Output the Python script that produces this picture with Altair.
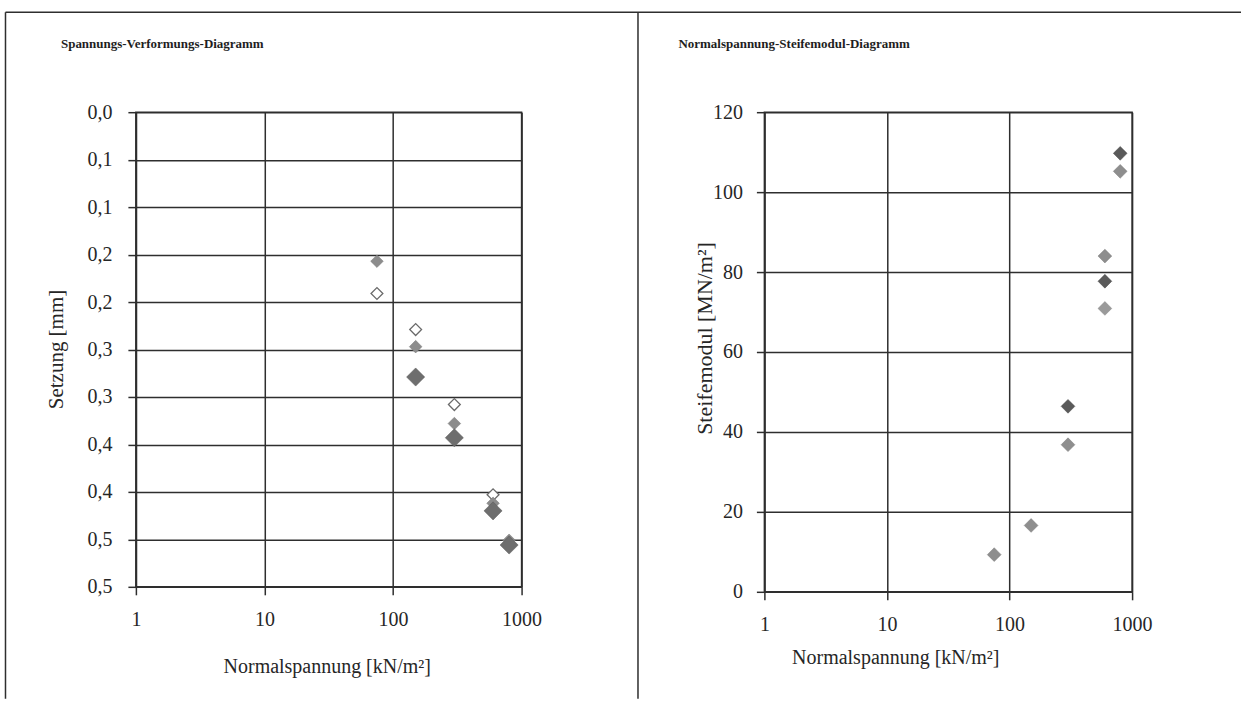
import altair as alt
import pandas as pd

# ---------------- data ----------------
STRESS = [75, 150, 300, 600, 800]            # Normalspannung [kN/m²]

# Setzung [mm] (left panel), three test series
SETZ_OPEN = [0.191, 0.229, 0.308, 0.403, None]
SETZ_GREY = [0.157, 0.247, 0.328, 0.412, 0.451]
SETZ_DARK = [None, 0.279, 0.343, 0.420, 0.456]

# Steifemodul [MN/m²] (right panel)
ES_GREY = [9.3, 16.6, 36.8, 84.0, 105.2]
ES_LIGHT = [None, None, None, 70.9, None]
ES_DARK = [None, None, 46.4, 77.7, 109.7]

X_TICKS = [1, 10, 100, 1000]
Y1_TICKS = [0, 0.05, 0.10, 0.15, 0.20, 0.25, 0.30, 0.35, 0.40, 0.45, 0.50]
Y1_LABELS = ["0,0", "0,1", "0,1", "0,2", "0,2", "0,3", "0,3", "0,4", "0,4", "0,5", "0,5"]
Y2_TICKS = [0, 20, 40, 60, 80, 100, 120]

TITLE_L = "Spannungs-Verformungs-Diagramm"
TITLE_R = "Normalspannung-Steifemodul-Diagramm"
XTITLE = "Normalspannung [kN/m²]"
Y1TITLE = "Setzung [mm]"
Y2TITLE = "Steifemodul [MN/m²]"

FONT = "Liberation Serif"
INK = "#262626"
GRID = "#2e2e2e"


def series(xs, ys):
    rows = [(x, y) for x, y in zip(xs, ys) if y is not None]
    return pd.DataFrame(rows, columns=["x", "y"])


one = pd.DataFrame({"a": [0]})

label_idx = "[" + ",".join(str(round(v * 100)) for v in Y1_TICKS) + "]"
label_arr = "[" + ",".join("'" + s + "'" for s in Y1_LABELS) + "]"
y1_label_expr = f"{label_arr}[indexof({label_idx}, round(datum.value*100))]"

# ---------------- left panel ----------------
W1, H1 = 386, 475
xs1 = alt.Scale(type="log", domain=[1, 1000], nice=False)
ys1 = alt.Scale(domain=[0, 0.5], reverse=True, nice=False, zero=False)

x_axis1 = alt.Axis(values=X_TICKS, format="d", title=XTITLE, tickSize=8, labelPadding=15,
                   titleX=W1 / 2 - 2, titleY=80, titleAlign="center", titleBaseline="middle",
                   titleFontSize=20)
y_axis1 = alt.Axis(values=Y1_TICKS, labelExpr=y1_label_expr, title=Y1TITLE, tickSize=8,
                   labelPadding=16, titleX=-79, titleY=237, titleAngle=270,
                   titleAlign="center", titleBaseline="middle", titleFontSize=21)


def pts(df, xs, ys, xa, ya, **mk):
    return alt.Chart(df).mark_point(shape="diamond", opacity=1, **mk).encode(
        x=alt.X("x:Q", scale=xs, axis=xa),
        y=alt.Y("y:Q", scale=ys, axis=ya),
    )


l_open = pts(series(STRESS, SETZ_OPEN), xs1, ys1, x_axis1, y_axis1,
             filled=True, fill="white", stroke="#6a6a6a", strokeWidth=1.3, size=140)
l_grey = pts(series(STRESS, SETZ_GREY), xs1, ys1, x_axis1, y_axis1,
             filled=True, fill="#8c8c8c", stroke="#7a7a7a", strokeWidth=0.5, size=160)
l_dark = pts(series(STRESS, SETZ_DARK), xs1, ys1, x_axis1, y_axis1,
             filled=True, fill="#6e6e6e", stroke="#5a5a5a", strokeWidth=0.5, size=330)

l_title = alt.Chart(one).mark_text(text=TITLE_L, font=FONT, fontSize=13, fontWeight="bold",
                                   align="left", baseline="middle", color="#1e1e1e").encode(
    x=alt.value(-75), y=alt.value(-68))
l_top = alt.Chart(one).mark_rule(color=GRID, strokeWidth=1.5).encode(
    x=alt.value(-130.5), x2=alt.value(502.5), y=alt.value(-100))
l_left = alt.Chart(one).mark_rule(color=GRID, strokeWidth=1.5).encode(
    x=alt.value(-130.5), y=alt.value(-100), y2=alt.value(587))

left = alt.layer(l_top, l_left, l_title, l_open, l_grey, l_dark).properties(width=W1, height=H1)

# ---------------- right panel ----------------
W2, H2 = 368, 480
xs2 = alt.Scale(type="log", domain=[1, 1000], nice=False)
ys2 = alt.Scale(domain=[0, 120], nice=False)

x_axis2 = alt.Axis(values=X_TICKS, format="d", title=XTITLE, tickSize=8, labelPadding=15,
                   titleX=131, titleY=66, titleAlign="center", titleBaseline="middle",
                   titleFontSize=20)
y_axis2 = alt.Axis(values=Y2_TICKS, title=Y2TITLE, tickSize=8, labelPadding=14,
                   titleX=-60, titleY=226, titleAngle=270,
                   titleAlign="center", titleBaseline="middle", titleFontSize=22)

r_grey = pts(series(STRESS, ES_GREY), xs2, ys2, x_axis2, y_axis2,
             filled=True, fill="#8e8e8e", stroke="#7a7a7a", strokeWidth=0.5, size=190)
r_light = pts(series(STRESS, ES_LIGHT), xs2, ys2, x_axis2, y_axis2,
              filled=True, fill="#9a9a9a", stroke="#858585", strokeWidth=0.5, size=190)
r_dark = pts(series(STRESS, ES_DARK), xs2, ys2, x_axis2, y_axis2,
             filled=True, fill="#5a5a5a", stroke="#444", strokeWidth=0.5, size=190)

r_title = alt.Chart(one).mark_text(text=TITLE_R, font=FONT, fontSize=13, fontWeight="bold",
                                   align="left", baseline="middle", color="#1e1e1e").encode(
    x=alt.value(-86), y=alt.value(-68))
r_top = alt.Chart(one).mark_rule(color=GRID, strokeWidth=1.5).encode(
    x=alt.value(-126.5), x2=alt.value(477), y=alt.value(-100))
r_div = alt.Chart(one).mark_rule(color=GRID, strokeWidth=1.5).encode(
    x=alt.value(-126.5), y=alt.value(-100), y2=alt.value(587))

right = alt.layer(r_top, r_div, r_title, r_grey, r_light, r_dark).properties(width=W2, height=H2)

chart = alt.hconcat(left, right, spacing=243, bounds="flush").properties(
    padding={"left": 4, "top": 10, "right": 0, "bottom": 0},
    background="white",
).configure_view(
    stroke=GRID, strokeWidth=1.5
).configure_axis(
    labelFont=FONT, labelFontSize=20, labelColor=INK,
    titleFont=FONT, titleFontSize=20, titleColor=INK, titleFontWeight="normal",
    grid=True, gridColor=GRID, gridWidth=1.5, gridOpacity=1,
    domainColor=GRID, domainWidth=1.5, tickColor=GRID, tickWidth=1.5,
    labelFlush=False, labelOverlap=False,
)

chart.save("out.html", embed_options={"renderer": "svg", "actions": False})
